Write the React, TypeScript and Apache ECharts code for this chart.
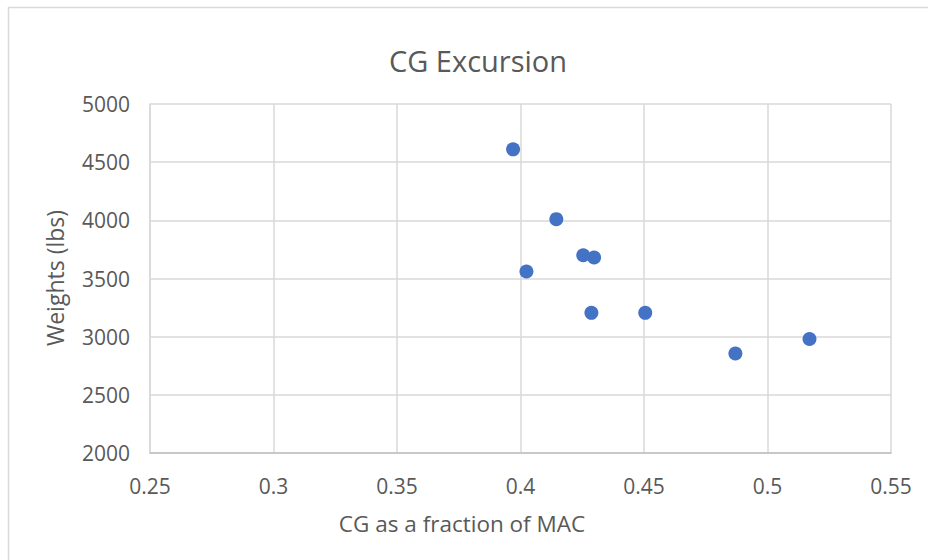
import React, { useEffect, useRef } from "react";
import * as echarts from "echarts";

const cgFractions = [0.397, 0.4145, 0.4254, 0.4298, 0.4024, 0.4287, 0.4505, 0.487, 0.517];
const weights = [4610, 4010, 3700, 3680, 3560, 3205, 3205, 2855, 2980];
const xTicks = [0.25, 0.3, 0.35, 0.4, 0.45, 0.5, 0.55];
const yTicks = [2000, 2500, 3000, 3500, 4000, 4500, 5000];
const titleText = "CG Excursion";
const xName = "CG as a fraction of MAC";
const yName = "Weights (lbs)";

export default function App() {
  const ref = useRef<HTMLDivElement>(null);
  useEffect(() => {
    const chart = echarts.init(ref.current!, null, { renderer: "svg" });
    const font = "Open Sans";
    const gray = "#595959";
    chart.setOption({
      animation: false,
      backgroundColor: "#ffffff",
      title: {
        text: titleText,
        left: 473,
        top: 41,
        textAlign: "center",
        textStyle: { fontFamily: font, fontSize: 29, fontWeight: "normal", color: gray },
      },
      graphic: [
        {
          type: "rect",
          shape: { x: 8.5, y: 7.5, width: 960, height: 600 },
          style: { fill: "none", stroke: "#d9d9d9", lineWidth: 1.5 },
          silent: true,
        },
        {
          type: "text",
          x: 462,
          y: 523,
          style: {
            text: xName,
            fontFamily: font,
            fontSize: 22.5,
            fill: gray,
            align: "center",
            verticalAlign: "middle",
          },
          silent: true,
        },
        {
          type: "text",
          x: 55,
          y: 278,
          rotation: Math.PI / 2,
          style: {
            text: yName,
            fontFamily: font,
            fontSize: 23,
            fill: gray,
            align: "center",
            verticalAlign: "middle",
          },
          silent: true,
        },
      ],
      grid: { left: 150, top: 104, width: 741, height: 349, containLabel: false },
      xAxis: {
        type: "value",
        min: xTicks[0],
        max: xTicks[xTicks.length - 1],
        interval: 0.05,
        axisLine: { show: true, lineStyle: { color: "#bfbfbf", width: 1.5 } },
        axisTick: { show: false },
        splitLine: { show: true, lineStyle: { color: "#d9d9d9", width: 1.5 } },
        axisLabel: {
          fontFamily: font,
          fontSize: 21,
          color: gray,
          margin: 22,
          formatter: (v: number) => String(parseFloat(v.toFixed(2))),
        },
      },
      yAxis: {
        type: "value",
        min: yTicks[0],
        max: yTicks[yTicks.length - 1],
        interval: 500,
        axisLine: { show: true, lineStyle: { color: "#d9d9d9", width: 1.5 } },
        axisTick: { show: false },
        splitLine: { show: true, lineStyle: { color: "#d9d9d9", width: 1.5 } },
        axisLabel: {
          fontFamily: font,
          fontSize: 21,
          color: gray,
          margin: 20,
          formatter: (v: number) => String(v),
        },
      },
      series: [
        {
          type: "scatter",
          data: cgFractions.map((x, i) => [x, weights[i]]),
          symbol: "circle",
          symbolSize: 14,
          itemStyle: { color: "#4472C4", opacity: 1 },
        },
      ],
    });
    return () => chart.dispose();
  }, []);
  return (
    <div
      ref={ref}
      style={{ position: "absolute", left: 0, top: 0, width: 928, height: 560 }}
    />
  );
}
